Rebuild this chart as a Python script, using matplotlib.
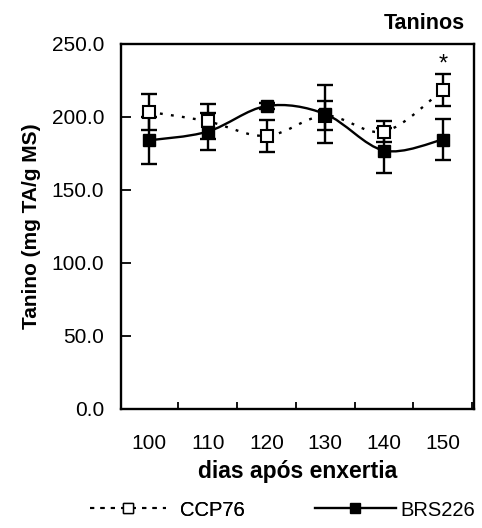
import matplotlib
matplotlib.use("Agg")
import matplotlib.pyplot as plt
from matplotlib.path import Path
from matplotlib.patches import PathPatch
from matplotlib.lines import Line2D
from matplotlib.ticker import MultipleLocator

plt.rcParams["font.family"] = ["Liberation Sans", "DejaVu Sans"]

days = [100, 110, 120, 130, 140, 150]
ccp76 = [203.5, 197.0, 187.0, 201.0, 190.0, 218.5]
ccp76_err = [12.5, 12.0, 11.0, 10.0, 7.0, 11.0]
brs226 = [184.0, 190.0, 207.5, 202.0, 177.0, 184.5]
brs226_err = [16.0, 12.5, 2.0, 20.0, 15.5, 14.0]
title = "Taninos"
xlabel = "dias após enxertia"
ylabel = "Tanino (mg TA/g MS)"


def smooth_path(x, y):
    # Catmull-Rom through the points, drawn as cubic Bezier segments
    verts = [(x[0], y[0])]
    codes = [Path.MOVETO]
    n = len(x)
    for i in range(n - 1):
        x0, y0 = (x[i - 1], y[i - 1]) if i > 0 else (x[i], y[i])
        x3, y3 = (x[i + 2], y[i + 2]) if i + 2 < n else (x[i + 1], y[i + 1])
        x1, y1 = x[i], y[i]
        x2, y2 = x[i + 1], y[i + 1]
        c1 = (x1 + (x2 - x0) / 6, y1 + (y2 - y0) / 6)
        c2 = (x2 - (x3 - x1) / 6, y2 - (y3 - y1) / 6)
        verts += [c1, c2, (x2, y2)]
        codes += [Path.CURVE4] * 3
    return Path(verts, codes)


fig = plt.figure(figsize=(4.82, 5.28), dpi=100)
ax = fig.add_axes([0.251, 0.2254, 0.732, 0.6913])

dotted = (0, (1.2, 3.5))
ax.add_patch(PathPatch(smooth_path(days, ccp76), fill=False, color="black",
                       lw=1.7, linestyle=dotted, zorder=2))
ax.add_patch(PathPatch(smooth_path(days, brs226), fill=False, color="black",
                       lw=1.7, zorder=2))

ax.errorbar(days, ccp76, yerr=ccp76_err, fmt="none", ecolor="black",
            elinewidth=1.7, capsize=6, capthick=1.7, zorder=3)
ax.errorbar(days, brs226, yerr=brs226_err, fmt="none", ecolor="black",
            elinewidth=1.7, capsize=6, capthick=1.7, zorder=3)
ax.plot(days, ccp76, linestyle="none", marker="s", ms=8.5, mfc="white",
        mec="black", mew=1.5, zorder=4)
ax.plot(days, brs226, linestyle="none", marker="s", ms=8.5, mfc="black",
        mec="black", zorder=5)

ax.text(days[-1], ccp76[-1] + ccp76_err[-1] - 1, "*", ha="center",
        va="bottom", fontsize=17)

ax.set_ylim(0, 250)
ax.yaxis.set_major_locator(MultipleLocator(50))
ax.set_yticklabels([f"{v:.1f}" for v in ax.get_yticks()])
ax.set_xticks(days)
ax.xaxis.set_minor_locator(MultipleLocator(10, offset=5))
ax.tick_params(axis="x", which="major", length=0, pad=18, labelsize=15)
ax.tick_params(axis="x", which="minor", direction="in", length=5, width=1.3)
ax.tick_params(axis="y", direction="in", length=7, width=1.3, pad=12,
               labelsize=15)
ax.set_xlim(95.24, 155.27)
for s in ax.spines.values():
    s.set_linewidth(1.7)

ax.set_xlabel(xlabel, fontsize=16.5, fontweight="bold", labelpad=5)
ax.set_ylabel(ylabel, fontsize=15, fontweight="bold", labelpad=8)
fig.text(0.965, 0.955, title, ha="right", va="center", fontsize=15.5,
         fontweight="bold")

h_ccp = Line2D([], [], color="black", lw=1.5, linestyle=(0, (2, 3)),
               marker="s", ms=7, mfc="white", mec="black")
h_brs = Line2D([], [], color="black", lw=1.7, marker="s", ms=7, mfc="black")
leg1 = fig.legend([h_ccp], ["CCP76"], loc="center left",
                  bbox_to_anchor=(0.165, 0.034), frameon=False, fontsize=14.5,
                  handlelength=3.8, handletextpad=0.7, borderpad=0)
fig.add_artist(leg1)
fig.legend([h_brs], ["BRS226"], loc="center left",
           bbox_to_anchor=(0.633, 0.034), frameon=False, fontsize=14.5,
           handlelength=4.0, handletextpad=0.25, borderpad=0)

fig.savefig("out.png", dpi=100)
